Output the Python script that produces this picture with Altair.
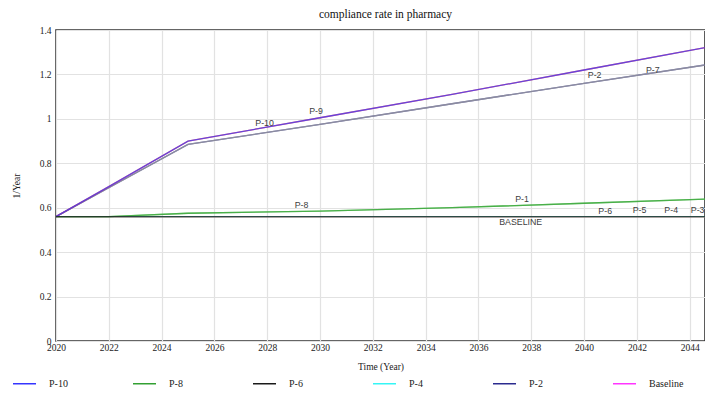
import altair as alt
import pandas as pd

# ---- data ----
years = [2020, 2022, 2025, 2030, 2035, 2040, 2045]

top_line = [0.56, 0.695, 0.900, 1.005, 1.110, 1.220, 1.330]      # P-10, P-9
second_line = [0.56, 0.690, 0.885, 0.975, 1.068, 1.160, 1.250]   # P-2, P-7
green_line = [0.56, 0.560, 0.575, 0.585, 0.600, 0.620, 0.640]    # P-8, P-1
flat_line = [0.56, 0.560, 0.560, 0.560, 0.560, 0.560, 0.560]     # P-6, P-5, P-4, P-3, Baseline

series_values = {
    "Baseline": flat_line,
    "P-1": green_line,
    "P-3": flat_line,
    "P-5": flat_line,
    "P-4": flat_line,
    "P-2": second_line,
    "P-7": second_line,
    "P-9": top_line,
    "P-8": green_line,
    "P-10": top_line,
    "P-6": flat_line,
}

legend_order = ["P-10", "P-8", "P-6", "P-4", "P-2", "Baseline",
                "P-9", "P-7", "P-5", "P-3", "P-1"]
legend_colors = ["#3535ff", "#33a033", "#1a1a1a", "#35f5f5", "#2b2b8f", "#ff35ff",
                 "#ff3535", "#9a9a9a", "#ff9a35", "#9a5a2a", "#66cc66"]

label_text = ["P-10", "P-9", "P-2", "P-7", "P-8", "P-1",
              "P-6", "P-5", "P-4", "P-3", "BASELINE"]
label_year = [2027.9, 2029.85, 2040.4, 2042.6, 2029.3, 2037.65,
              2040.8, 2042.1, 2043.3, 2044.3, 2037.6]
label_value = [0.982, 1.036, 1.198, 1.221, 0.613, 0.640,
               0.586, 0.590, 0.590, 0.590, 0.536]

x_ticks = list(range(2020, 2045, 2))
y_ticks = [0, 0.2, 0.4, 0.6, 0.8, 1.0, 1.2, 1.4]

# ---- tables ----
rows = []
for name, vals in series_values.items():
    for yr, v in zip(years, vals):
        rows.append({"series": name, "year": yr, "value": v})
line_df = pd.DataFrame(rows)
label_df = pd.DataFrame({"label": label_text, "year": label_year, "value": label_value})

serif = "Liberation Serif"

x_enc = alt.X("year:Q",
              scale=alt.Scale(domain=[2020, 2044.58], nice=False, zero=False),
              axis=alt.Axis(values=x_ticks, format="d", title="Time (Year)",
                            labelFlush=False, labelOverlap=False, ticks=False,
                            labelPadding=1, titlePadding=10))
y_enc = alt.Y("value:Q",
              scale=alt.Scale(domain=[0, 1.4], nice=False),
              axis=alt.Axis(values=y_ticks, format="~g", title="1/Year",
                            ticks=False, labelPadding=5, titlePadding=18))

lines = alt.Chart(line_df).mark_line(strokeWidth=1.3, strokeOpacity=0.75, clip=True).encode(
    x=x_enc,
    y=y_enc,
    color=alt.Color("series:N",
                    scale=alt.Scale(domain=legend_order, range=legend_colors),
                    sort=legend_order,
                    legend=alt.Legend(title=None, orient="none", legendX=-44, legendY=341,
                                      direction="horizontal", columns=6, gridAlign="all",
                                      symbolType="stroke", symbolSize=529,
                                      symbolStrokeWidth=1.5, symbolOpacity=1,
                                      labelFont=serif, labelFontSize=10,
                                      labelColor="#222222", labelOffset=12,
                                      columnPadding=46, rowPadding=3)),
    detail="series:N",
)

labels = alt.Chart(label_df).mark_text(font="Liberation Sans", fontSize=8.8,
                                       color="#404040", baseline="middle").encode(
    x="year:Q", y="value:Q", text="label:N")

chart = alt.layer(lines, labels).properties(
    width=649, height=311,
    background="white",
    title=alt.TitleParams(text="compliance rate in pharmacy", font=serif, fontSize=11.5,
                          fontWeight="normal", color="#111111", anchor="middle",
                          offset=5, dx=5),
    autosize=alt.AutoSizeParams(type="none"),
    padding={"left": 56, "top": 30, "right": 0, "bottom": 53},
).configure_view(
    stroke="#333333", strokeWidth=1.6
).configure_axis(
    domain=False, gridColor="#e2e2e2", gridWidth=1.2,
    labelFont=serif, labelFontSize=9.5, labelColor="#222222",
    titleFont=serif, titleFontSize=9.5, titleFontWeight="normal", titleColor="#222222",
)

chart.save("out.html", embed_options={"renderer": "svg", "actions": False})
